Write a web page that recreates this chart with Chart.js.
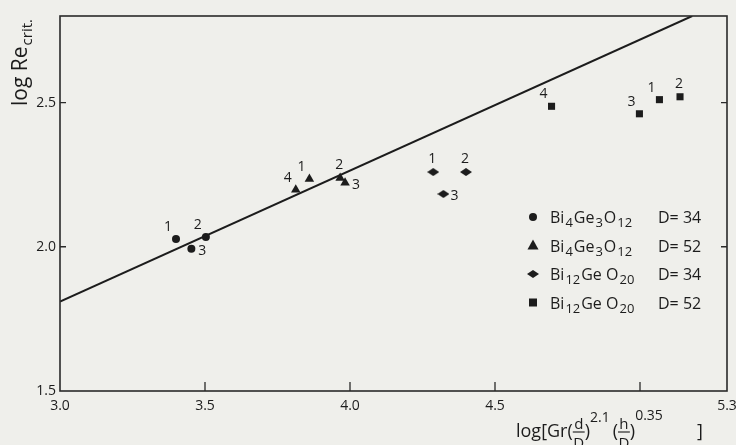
<!DOCTYPE html>
<html>
<head>
<meta charset="utf-8">
<script src="https://cdn.jsdelivr.net/npm/chart.js@4.4.1/dist/chart.umd.min.js"></script>
<style>
  html,body{margin:0;padding:0;background:#efefeb;}
  #wrap{width:736px;height:445px;}
</style>
</head>
<body>
<div id="wrap"><canvas id="c" width="736" height="445"></canvas></div>
<script>
// ---- axis ranges and ticks ----
const xMin = 3.0, xMax = 5.3;
const yMin = 1.5, yMax = 2.8;
const xTickValues = [3.0, 3.5, 4.0, 4.5, 5.0, 5.3];
const xTickLabels = ['3.0', '3.5', '4.0', '4.5', '', '5.3'];
const yTickValues = [1.5, 2.0, 2.5];
const yTickLabels = ['1.5', '2.0', '2.5'];

// ---- series: Bi4Ge3O12, D=34 (circles) ----
const circleX = [3.40, 3.503, 3.453];
const circleY = [2.027, 2.034, 1.993];
const circleNums = ['1', '2', '3'];
// ---- series: Bi4Ge3O12, D=52 (triangles) ----
const triX = [3.813, 3.86, 3.966, 3.983];
const triY = [2.198, 2.235, 2.238, 2.222];
const triNums = ['4', '1', '2', '3'];
// ---- series: Bi12GeO20, D=34 (diamonds) ----
const diaX = [4.287, 4.40, 4.322];
const diaY = [2.259, 2.259, 2.183];
const diaNums = ['1', '2', '3'];
// ---- series: Bi12GeO20, D=52 (squares) ----
const sqX = [4.695, 4.998, 5.067, 5.138];
const sqY = [2.487, 2.461, 2.51, 2.52];
const sqNums = ['4', '3', '1', '2'];
// ---- correlation line ----
const fitX = [3.0, 5.18];
const fitY = [1.81, 2.8];

// label anchor directions (style only)
const circleAnch = ['nw', 'nw', 'e'];
const triAnch = ['nw', 'nw', 'n', 'e'];
const diaAnch = ['n', 'n', 'e'];
const sqAnch = ['nw', 'nw', 'nw', 'n'];
const anchorOffsets = { nw: [-8, -12], n: [-1, -13], e: [11, 2] };

const INK = '#1c1c1c';
const FONT = '"Open Sans", "DejaVu Sans", sans-serif';

function pts(xs, ys) { return xs.map((x, i) => ({ x: x, y: ys[i] })); }

// flattened diamond marker
function makeDiamond(w, h) {
  const c = document.createElement('canvas');
  c.width = w; c.height = h;
  const g = c.getContext('2d');
  g.fillStyle = INK;
  g.beginPath();
  g.moveTo(w / 2, 0); g.lineTo(w, h / 2); g.lineTo(w / 2, h); g.lineTo(0, h / 2);
  g.closePath(); g.fill();
  return c;
}
const diamondImg = makeDiamond(12, 8);

const legendItems = [
  { style: 'circle', parts: [['Bi', 0], ['4', 1], ['Ge', 0], ['3', 1], ['O', 0], ['12', 1]], d: 'D= 34' },
  { style: 'triangle', parts: [['Bi', 0], ['4', 1], ['Ge', 0], ['3', 1], ['O', 0], ['12', 1]], d: 'D= 52' },
  { style: 'diamond', parts: [['Bi', 0], ['12', 1], ['Ge O', 0], ['20', 1]], d: 'D= 34' },
  { style: 'rect', parts: [['Bi', 0], ['12', 1], ['Ge O', 0], ['20', 1]], d: 'D= 52' }
];

function drawMarker(g, style, x, y) {
  g.save();
  g.fillStyle = INK;
  g.beginPath();
  if (style === 'circle') { g.arc(x, y, 4, 0, Math.PI * 2); g.fill(); }
  else if (style === 'triangle') { g.moveTo(x, y - 6); g.lineTo(x + 5.5, y + 4); g.lineTo(x - 5.5, y + 4); g.closePath(); g.fill(); }
  else if (style === 'diamond') { g.drawImage(diamondImg, x - 6, y - 4); }
  else { g.fillRect(x - 4, y - 4, 8, 8); }
  g.restore();
}

const paperPlugin = {
  id: 'paper',
  beforeDraw(chart) {
    const g = chart.ctx;
    g.save();
    g.fillStyle = '#efefeb';
    g.fillRect(0, 0, chart.width, chart.height);
    g.restore();
  }
};

const framePlugin = {
  id: 'frame',
  afterDraw(chart) {
    const g = chart.ctx, a = chart.chartArea;
    const xs = chart.scales.x, ys = chart.scales.y;
    g.save();
    g.strokeStyle = '#2a2a2a';
    g.lineWidth = 1.6;
    g.strokeRect(a.left, a.top, a.right - a.left, a.bottom - a.top);
    g.lineWidth = 1.3;
    g.beginPath();
    xTickValues.forEach(v => {
      if (v === xMin || v === xMax) return;
      const px = xs.getPixelForValue(v);
      g.moveTo(px, a.bottom); g.lineTo(px, a.bottom - 9);
    });
    yTickValues.forEach(v => {
      if (v === yMin) return;
      const py = ys.getPixelForValue(v);
      g.moveTo(a.left, py); g.lineTo(a.left + 6, py);
      g.moveTo(a.right, py); g.lineTo(a.right - 6, py);
    });
    g.stroke();

    // point numbers
    g.fillStyle = INK;
    g.font = '14px ' + FONT;
    g.textAlign = 'center';
    g.textBaseline = 'middle';
    chart.data.datasets.forEach((ds, di) => {
      if (!ds.nums) return;
      const meta = chart.getDatasetMeta(di);
      meta.data.forEach((el, i) => {
        const off = anchorOffsets[ds.anch[i]];
        g.fillText(ds.nums[i], el.x + off[0], el.y + off[1]);
      });
    });

    // legend with subscripts
    const lx = a.right - 194, ly0 = a.top + 201, dy = 28.5;
    legendItems.forEach((it, k) => {
      const y = ly0 + k * dy;
      drawMarker(g, it.style, lx, y);
      let x = lx + 17;
      g.textAlign = 'left';
      g.textBaseline = 'alphabetic';
      it.parts.forEach(p => {
        if (p[1]) { g.font = '13px ' + FONT; g.fillText(p[0], x, y + 10); }
        else { g.font = '16px ' + FONT; g.fillText(p[0], x, y + 6); }
        x += g.measureText(p[0]).width + 1;
      });
      g.font = '16px ' + FONT;
      g.fillText(it.d, lx + 125, y + 6);
    });

    // y axis title
    g.save();
    g.translate(27, 63);
    g.rotate(-Math.PI / 2);
    g.textBaseline = 'alphabetic';
    const t1 = 'log Re';
    g.font = '21px ' + FONT; const w1 = g.measureText(t1).width;
    g.font = '15px ' + FONT; const w2 = g.measureText('crit.').width;
    const sx = -(w1 + w2) / 2;
    g.font = '21px ' + FONT; g.fillText(t1, sx, 0);
    g.font = '15px ' + FONT; g.fillText('crit.', sx + w1 + 1, 5);
    g.restore();

    // x axis title: log[Gr(d/D)^2.1 (h/D)^0.35 ]
    let x = 516; const by = 437;
    g.textBaseline = 'alphabetic';
    g.textAlign = 'left';
    const big = '18px ' + FONT, small = '14px ' + FONT, frac = '15px ' + FONT;
    function txt(s, f, dyy) { g.font = f; g.fillText(s, x, by + (dyy || 0)); x += g.measureText(s).width; }
    function fraction(n, d) {
      g.font = frac;
      const w = Math.max(g.measureText(n).width, g.measureText(d).width) + 1;
      g.textAlign = 'center';
      g.fillText(n, x + w / 2, by - 8);
      g.fillText(d, x + w / 2, by + 11);
      g.textAlign = 'left';
      g.beginPath(); g.lineWidth = 1.2; g.moveTo(x, by - 5); g.lineTo(x + w, by - 5); g.stroke();
      x += w;
    }
    txt('log[Gr(', big);
    fraction('d', 'D');
    txt(')', big);
    txt('2.1', small, -15);
    x += 3;
    txt('(', big);
    fraction('h', 'D');
    txt(')', big);
    txt('0.35', small, -17);
    x = Math.max(x + 8, 697);
    txt(']', big);
    g.restore();
  }
};

new Chart(document.getElementById('c'), {
  type: 'scatter',
  data: {
    datasets: [
      { type: 'line', label: 'fit', data: pts(fitX, fitY), borderColor: INK, borderWidth: 2, pointRadius: 0, fill: false, tension: 0 },
      { label: 'Bi4Ge3O12 D=34', data: pts(circleX, circleY), nums: circleNums, anch: circleAnch, pointStyle: 'circle', pointRadius: 4, backgroundColor: INK, borderColor: INK, borderWidth: 0 },
      { label: 'Bi4Ge3O12 D=52', data: pts(triX, triY), nums: triNums, anch: triAnch, pointStyle: 'triangle', pointRadius: 5.5, backgroundColor: INK, borderColor: INK, borderWidth: 0 },
      { label: 'Bi12GeO20 D=34', data: pts(diaX, diaY), nums: diaNums, anch: diaAnch, pointStyle: diamondImg, backgroundColor: INK, borderColor: INK },
      { label: 'Bi12GeO20 D=52', data: pts(sqX, sqY), nums: sqNums, anch: sqAnch, pointStyle: 'rect', pointRadius: 5, backgroundColor: INK, borderColor: INK, borderWidth: 0 }
    ]
  },
  options: {
    responsive: false,
    animation: false,
    events: [],
    layout: { padding: { top: 16, right: 9, left: 0, bottom: 0 } },
    plugins: { legend: { display: false }, tooltip: { enabled: false } },
    scales: {
      x: {
        type: 'linear', min: xMin, max: xMax,
        afterBuildTicks: s => { s.ticks = xTickValues.map(v => ({ value: v })); },
        afterFit: s => { s.height = 54; s.paddingLeft = 0; s.paddingRight = 0; },
        grid: { display: false, drawTicks: false },
        border: { display: false },
        ticks: { autoSkip: false, maxRotation: 0, padding: 7, color: INK, font: { family: FONT, size: 14 },
          callback: (v, i) => xTickLabels[i] }
      },
      y: {
        type: 'linear', min: yMin, max: yMax,
        afterBuildTicks: s => { s.ticks = yTickValues.map(v => ({ value: v })); },
        afterFit: s => { s.width = 60; s.paddingTop = 0; s.paddingBottom = 0; },
        grid: { display: false, drawTicks: false },
        border: { display: false },
        ticks: { padding: 4, color: INK, font: { family: FONT, size: 14 },
          callback: (v, i) => yTickLabels[i] }
      }
    }
  },
  plugins: [paperPlugin, framePlugin]
});
</script>
</body>
</html>
